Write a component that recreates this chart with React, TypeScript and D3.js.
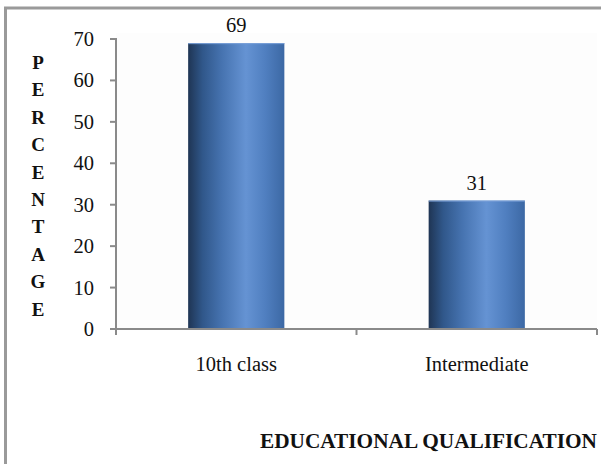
import React from "react";
import * as d3 from "d3";

const categories = ["10th class", "Intermediate"];
const values = [69, 31];
const yTicks = [0, 10, 20, 30, 40, 50, 60, 70];
const yTitleLetters = ["P", "E", "R", "C", "E", "N", "T", "A", "G", "E"];
const xTitle = "EDUCATIONAL QUALIFICATION";

const W = 601;
const H = 464;
const left = 116;
const right = 597;
const top = 39;
const bottom = 329;
const font = "'Liberation Serif', 'Times New Roman', serif";

export default function App() {
  const x = d3.scaleBand<string>().domain(categories).range([left, right]).paddingInner(0.6).paddingOuter(0.3);
  const xb = d3.scaleBand<string>().domain(categories).range([left, right]);
  const y = d3.scaleLinear().domain([0, 70]).range([bottom, top]);
  const axisColor = "#8a8a8a";
  return (
    <svg width={W} height={H} style={{ position: "absolute", left: 0, top: 0 }}>
      <defs>
        <linearGradient id="barGrad" x1="0" y1="0" x2="1" y2="0">
          <stop offset="0" stopColor="#1f3554" />
          <stop offset="0.15" stopColor="#30578a" />
          <stop offset="0.35" stopColor="#4673b0" />
          <stop offset="0.6" stopColor="#6593d3" />
          <stop offset="0.8" stopColor="#507fc0" />
          <stop offset="1" stopColor="#3c68a4" />
        </linearGradient>
      </defs>
      <rect x={0} y={0} width={W} height={H} fill="#fff" />
      <rect x={5.5} y={8} width={W + 10} height={H + 10} fill="none" stroke="#9a9a9a" strokeWidth={3} />
      <rect x={left} y={33} width={right - left} height={bottom - 33} fill="#fdfdfd" />
      {/* y axis */}
      <line x1={left} x2={left} y1={top - 1} y2={bottom} stroke={axisColor} strokeWidth={2} />
      {yTicks.map((t) => (
        <g key={t}>
          <line x1={left - 6} x2={left} y1={y(t)} y2={y(t)} stroke={axisColor} strokeWidth={2} />
          <text x={94} y={y(t) + 7} textAnchor="end" fontFamily={font} fontSize={20.5} fill="#111">
            {t}
          </text>
        </g>
      ))}
      {/* bars */}
      {categories.map((c, i) => (
        <g key={c}>
          <rect x={x(c)!} y={y(values[i])} width={x.bandwidth()} height={bottom - y(values[i])} fill="url(#barGrad)" />
          <line x1={x(c)!} x2={x(c)! + x.bandwidth()} y1={y(values[i]) + 0.5} y2={y(values[i]) + 0.5} stroke="#7aa0d8" strokeWidth={1} />
          <text x={x(c)! + x.bandwidth() / 2} y={y(values[i]) - 11} textAnchor="middle" fontFamily={font} fontSize={20.5} fill="#111">
            {values[i]}
          </text>
          <text x={xb(c)! + xb.bandwidth() / 2} y={371} textAnchor="middle" fontFamily={font} fontSize={20.5} fill="#111">
            {c}
          </text>
        </g>
      ))}
      {/* x axis */}
      <line x1={left - 1} x2={right} y1={bottom} y2={bottom} stroke={axisColor} strokeWidth={2} />
      {[left, ...categories.map((c) => xb(c)! + xb.bandwidth())].map((p, i) => (
        <line key={i} x1={p} x2={p} y1={bottom} y2={bottom + 6} stroke={axisColor} strokeWidth={2} />
      ))}
      {/* y title */}
      {yTitleLetters.map((l, i) => (
        <text key={i} x={38} y={69 + i * 27.4} textAnchor="middle" fontFamily={font} fontWeight="bold" fontSize={19} fill="#111">
          {l}
        </text>
      ))}
      <text x={597} y={448} textAnchor="end" fontFamily={font} fontWeight="bold" fontSize={21.3} fill="#111">
        {xTitle}
      </text>
    </svg>
  );
}
